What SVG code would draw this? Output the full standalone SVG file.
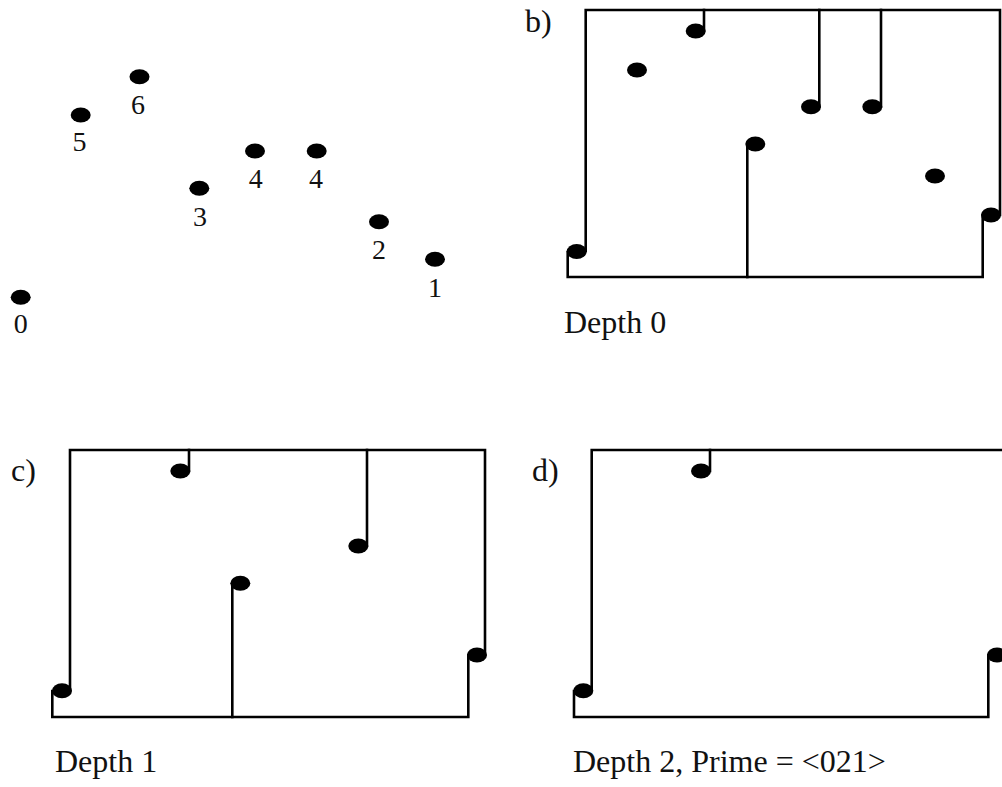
<svg xmlns="http://www.w3.org/2000/svg" width="1002" height="787" viewBox="0 0 1002 787">
<style>
.dot{fill:#000}
.ln{fill:none;stroke:#000;stroke-width:2.6;stroke-linejoin:miter;stroke-linecap:square}
.num{font-family:"Liberation Serif","Times New Roman",serif;font-size:28px;fill:#111;text-anchor:middle}
.lbl{font-family:"Liberation Serif","Times New Roman",serif;font-size:32px;fill:#111}
</style>
<defs>
<ellipse id="d" cx="0" cy="0" rx="10" ry="7.5"/>
</defs>
<rect width="1002" height="787" fill="#ffffff"/>

<g id="panel-a">
<g id="a-p6"><use href="#d" x="139.5" y="76.7" class="dot"/><text class="num" x="138" y="113.5">6</text></g>
<g id="a-p5"><use href="#d" x="80.7" y="115" class="dot"/><text class="num" x="79.5" y="150.5">5</text></g>
<g id="a-p3"><use href="#d" x="199.3" y="188.3" class="dot"/><text class="num" x="200" y="225.5">3</text></g>
<g id="a-p4a"><use href="#d" x="255" y="151" class="dot"/><text class="num" x="255.7" y="188">4</text></g>
<g id="a-p4b"><use href="#d" x="316.7" y="151" class="dot"/><text class="num" x="316" y="188">4</text></g>
<g id="a-p2"><use href="#d" x="379" y="221.7" class="dot"/><text class="num" x="379" y="259">2</text></g>
<g id="a-p1"><use href="#d" x="435" y="259.3" class="dot"/><text class="num" x="435" y="296.5">1</text></g>
<g id="a-p0"><use href="#d" x="20.7" y="297.3" class="dot"/><text class="num" x="20.7" y="332.5">0</text></g>
</g>

<g id="panel-b">
<text class="lbl" x="525" y="32">b)</text>
<g id="b-connectors">
<path class="ln" d="M567.7,252 V277 H982.7 V215"/>
<path class="ln" d="M585.7,251 V10 H1000 V215"/>
<path class="ln" d="M704,10 V31"/>
<path class="ln" d="M819.3,10 V106.7"/>
<path class="ln" d="M881,10 V106.7"/>
<path class="ln" d="M747.3,144 V277"/>
</g>
<g id="b-dots">
<use href="#d" x="576.7" y="251.5" class="dot"/>
<use href="#d" x="991" y="215" class="dot"/>
<use href="#d" x="695.7" y="31" class="dot"/>
<use href="#d" x="637" y="70" class="dot"/>
<use href="#d" x="811" y="106.7" class="dot"/>
<use href="#d" x="872.3" y="106.7" class="dot"/>
<use href="#d" x="755.3" y="144" class="dot"/>
<use href="#d" x="935" y="176" class="dot"/>
</g>
<text class="lbl" x="564" y="333">Depth 0</text>
</g>

<g id="panel-c">
<text class="lbl" x="11" y="481">c)</text>
<g id="c-connectors">
<path class="ln" d="M52.3,691 V717 H468.3 V655"/>
<path class="ln" d="M70,691 V450 H485 V655"/>
<path class="ln" d="M189,450 V471"/>
<path class="ln" d="M367,450 V546"/>
<path class="ln" d="M232.3,583.3 V717"/>
</g>
<g id="c-dots">
<use href="#d" x="62" y="690.7" class="dot"/>
<use href="#d" x="477" y="655" class="dot"/>
<use href="#d" x="180.3" y="471" class="dot"/>
<use href="#d" x="358.3" y="546" class="dot"/>
<use href="#d" x="240.3" y="583.3" class="dot"/>
</g>
<text class="lbl" x="55" y="772">Depth 1</text>
</g>

<g id="panel-d">
<text class="lbl" x="532" y="481">d)</text>
<g id="d-connectors">
<path class="ln" d="M574,691 V717 H988.3 V655"/>
<path class="ln" d="M591.7,691 V450 H1005"/>
<path class="ln" d="M710,450 V471"/>
</g>
<g id="d-dots">
<use href="#d" x="583.3" y="690.7" class="dot"/>
<use href="#d" x="997" y="655" class="dot"/>
<use href="#d" x="701" y="471" class="dot"/>
</g>
<text class="lbl" x="573" y="772">Depth 2, Prime = &lt;021&gt;</text>
</g>
</svg>
